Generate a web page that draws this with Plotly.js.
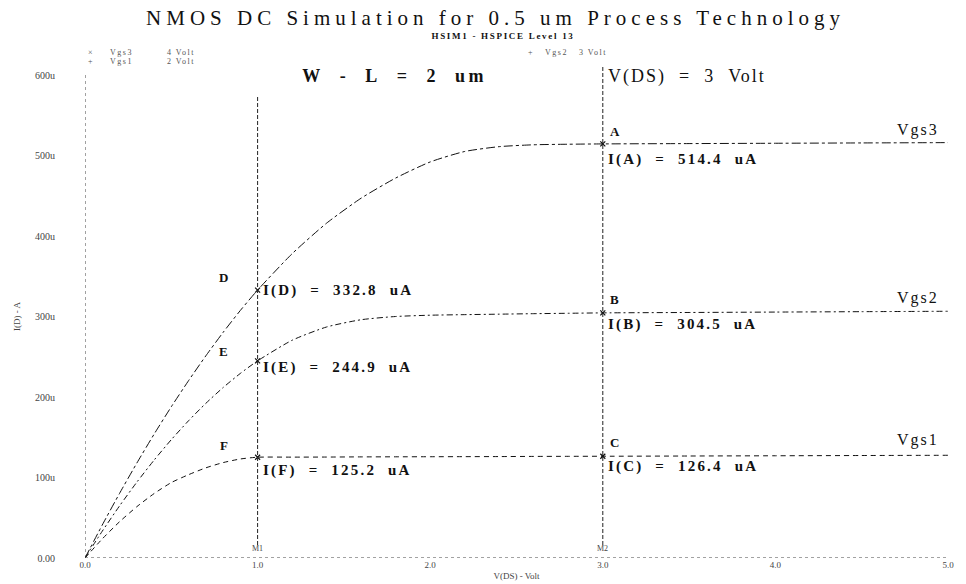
<!DOCTYPE html>
<html>
<head>
<meta charset="utf-8">
<script src="https://cdn.plot.ly/plotly-3.0.1.min.js"></script>
<style>
  html, body { margin: 0; padding: 0; background: #fff; }
  #chart { width: 966px; height: 584px; }
</style>
</head>
<body>
<div id="chart"></div>
<script>
// Drain voltage sweep (V) shared by all three gate-voltage curves
const vds = [0, 0.1, 0.2, 0.3, 0.4, 0.5, 0.6, 0.7, 0.8, 0.9, 1.0,
             1.2, 1.4, 1.6, 1.8, 2.0, 2.2, 2.4, 2.6, 2.8, 3.0,
             3.5, 4.0, 4.5, 5.0];

// Drain current (uA) for each gate voltage
const idVgs3 = [0, 41.0, 80.2, 117.8, 153.7, 187.9, 220.3, 251.1, 280.2, 307.5, 332.8,
                378.0, 416.0, 447.0, 472.0, 492.0, 505.0, 511.0, 513.3, 514.0, 514.4,
                514.8, 515.2, 515.6, 516.0];
const idVgs2 = [0, 33.3, 64.7, 94.1, 121.5, 147.0, 170.5, 192.1, 211.7, 229.3, 244.9,
                270.5, 287.0, 296.0, 300.0, 301.6, 302.3, 302.9, 303.5, 304.0, 304.5,
                305.0, 305.5, 306.0, 306.5];
const idVgs1 = [0, 23.7, 45.0, 63.7, 80.0, 93.7, 103.5, 112.0, 118.5, 123.0, 125.2,
                125.3, 125.4, 125.6, 125.7, 125.8, 125.9, 126.0, 126.2, 126.3, 126.4,
                126.7, 127.0, 127.3, 127.6];

// Cursor positions M1 / M2 and the currents they read on each curve
const cursorNames = ['M1', 'M2'];
const cursorVds = [1.0, 3.0];
const cursorVgs3 = [332.8, 514.4];
const cursorVgs2 = [244.9, 304.5];
const cursorVgs1 = [125.2, 126.4];
const pointNamesVgs3 = ['D', 'A'];
const pointNamesVgs2 = ['E', 'B'];
const pointNamesVgs1 = ['F', 'C'];

// Legend entries: marker, signal name, gate voltage
const legendMarks = ['\u00d7', '+', '+'];
const legendNames = ['Vgs3', 'Vgs1', 'Vgs2'];
const legendValues = ['4 Volt', '2 Volt', '3 Volt'];

// Axis ticks
const xTickVals = [0, 1, 2, 3, 4, 5];
const xTickText = ['0.0', '1.0', '2.0', '3.0', '4.0', '5.0'];
const yTickVals = [0, 100, 200, 300, 400, 500, 600];
const yTickText = ['0.00', '100u', '200u', '300u', '400u', '500u', '600u'];

const SERIF = 'Liberation Serif, serif';
const INK = '#111';
const GREY = '#444';
const NB = '\u00a0\u00a0';   // wide word gap

// pixel helpers for paper-referenced texts (plot area 85..948 x 75..558)
const px = function (x) { return (x - 85) / 863; };
const py = function (y) { return (558 - y) / 483; };

function curve(y, dash) {
  return {
    x: vds, y: y, type: 'scatter', mode: 'lines',
    line: { color: INK, width: 1, dash: dash, shape: 'spline', smoothing: 0.6 },
    hoverinfo: 'skip', showlegend: false
  };
}

const cursorX = [], cursorY = [];
[cursorVgs3, cursorVgs2, cursorVgs1].forEach(function (arr) {
  arr.forEach(function (v, i) { cursorX.push(cursorVds[i]); cursorY.push(v); });
});

const traces = [
  curve(idVgs3, 'dashdot'),
  curve(idVgs2, '6px,3px,2px,3px'),
  curve(idVgs1, '5px,4px'),
  {
    x: cursorX, y: cursorY, type: 'scatter', mode: 'markers',
    marker: { symbol: 'x-thin', size: 5, line: { color: INK, width: 1.2 } },
    hoverinfo: 'skip', showlegend: false
  }
];

// Per-annotation letter spacing (px), applied after drawing
const spacing = [];
const annotations = [];
function addNote(a, ls) { annotations.push(a); spacing.push(ls || 0); }

// Header texts
addNote({ text: '<b>HSIM1 - HSPICE Level 13</b>', xref: 'paper', yref: 'paper',
  x: px(503), y: py(36), xanchor: 'center', yanchor: 'middle', showarrow: false,
  font: { family: SERIF, size: 9, color: INK } }, 1.7);
addNote({ text: '<b>' + ['W', '-', 'L', '=', '2', 'um'].join(NB) + '</b>', xref: 'paper', yref: 'paper',
  x: px(394), y: py(76), xanchor: 'center', yanchor: 'middle', showarrow: false,
  font: { family: SERIF, size: 18, color: INK } }, 3.5);
addNote({ text: ['V(DS)', '=', '3', 'Volt'].join(NB), xref: 'paper', yref: 'paper',
  x: px(606), y: py(76), xanchor: 'left', align: 'left', yanchor: 'middle', showarrow: false,
  font: { family: SERIF, size: 18, color: INK } }, 2.0);

// Cursor point letters and read-out values
const letterShift = [{ xanchor: 'right', xshift: -28 }, { xanchor: 'left', xshift: 5 }];
const valueYShift = [[0, -16], [-7, -12], [-13, -10]];
const letterYShift = [[13, 12], [9, 13], [12, 14]];
[[cursorVgs3, pointNamesVgs3], [cursorVgs2, pointNamesVgs2], [cursorVgs1, pointNamesVgs1]]
  .forEach(function (pair, s) {
    const vals = pair[0], names = pair[1];
    vals.forEach(function (v, i) {
      addNote({ text: '<b>' + names[i] + '</b>', xref: 'x', yref: 'y', x: cursorVds[i], y: v,
        xanchor: letterShift[i].xanchor, xshift: letterShift[i].xshift, yshift: letterYShift[s][i],
        align: 'left', yanchor: 'middle', showarrow: false,
        font: { family: SERIF, size: 13, color: INK } }, 0);
      addNote({ text: '<b>' + ['I(' + names[i] + ')', '=', v.toFixed(1), 'uA'].join(NB) + '</b>',
        xref: 'x', yref: 'y', x: cursorVds[i], y: v, xanchor: 'left', xshift: 3,
        yshift: valueYShift[s][i], align: 'left', yanchor: 'middle', showarrow: false,
        font: { family: SERIF, size: 15, color: INK } }, 2.2);
    });
  });

// Cursor names at the foot of each cursor line
cursorNames.forEach(function (n, i) {
  addNote({ text: n, xref: 'x', yref: 'y', x: cursorVds[i], y: 12, xanchor: 'center',
    yanchor: 'middle', showarrow: false, font: { family: SERIF, size: 8, color: GREY } }, 0);
});

// Curve names at the right end
const curveLabelY = [532, 323, 147];
['Vgs3', 'Vgs2', 'Vgs1'].forEach(function (n, i) {
  addNote({ text: n, xref: 'x', yref: 'y', x: 4.826, y: curveLabelY[i], xanchor: 'center',
    yanchor: 'middle', showarrow: false, font: { family: SERIF, size: 16, color: INK } }, 2);
});

// Signal legend
const legendPos = [[90, 108, 165, 53], [90, 108, 165, 62], [530, 543, 577, 53]];
legendNames.forEach(function (n, i) {
  const p = legendPos[i];
  addNote({ text: legendMarks[i], xref: 'paper', yref: 'paper', x: px(p[0]), y: py(p[3]),
    xanchor: 'center', yanchor: 'middle', showarrow: false,
    font: { family: SERIF, size: 8, color: '#555' } }, 0);
  addNote({ text: n, xref: 'paper', yref: 'paper', x: px(p[1]), y: py(p[3]),
    xanchor: 'left', align: 'left', yanchor: 'middle', showarrow: false,
    font: { family: SERIF, size: 8, color: '#555' } }, 1.5);
  addNote({ text: legendValues[i], xref: 'paper', yref: 'paper', x: px(p[2]), y: py(p[3]),
    xanchor: 'left', align: 'left', yanchor: 'middle', showarrow: false,
    font: { family: SERIF, size: 8, color: '#555' } }, 1.5);
});

// Dotted axes and dashed cursor lines
const shapes = [
  { type: 'line', xref: 'x', yref: 'y', x0: 0, x1: 0, y0: 0, y1: 600,
    line: { color: GREY, width: 1, dash: 'dot' } },
  { type: 'line', xref: 'x', yref: 'y', x0: 0, x1: 5, y0: 0, y1: 0,
    line: { color: GREY, width: 1, dash: 'dot' } }
];
const cursorTop = [py(95), py(66)];
cursorVds.forEach(function (v, i) {
  shapes.push({ type: 'line', xref: 'x', yref: 'paper', x0: v, x1: v, y0: py(545), y1: cursorTop[i],
    line: { color: '#222', width: 1, dash: '4px,2px' } });
});

const layout = {
  width: 966, height: 584,
  margin: { l: 85, r: 18, t: 75, b: 26 },
  paper_bgcolor: '#fff', plot_bgcolor: '#fff',
  showlegend: false,
  title: {
    text: 'NMOS DC Simulation for 0.5 um Process Technology',
    font: { family: SERIF, size: 21, color: INK },
    x: 0.513, xanchor: 'center', xref: 'container',
    y: 1 - 18 / 584, yanchor: 'middle', yref: 'container'
  },
  xaxis: {
    range: [0, 5], tickvals: xTickVals, ticktext: xTickText,
    showgrid: false, zeroline: false, showline: false, ticks: '',
    tickfont: { family: SERIF, size: 9, color: GREY },
    title: { text: 'V(DS) - Volt', standoff: 3, font: { family: SERIF, size: 9, color: GREY } },
    automargin: false, fixedrange: true
  },
  yaxis: {
    range: [0, 600], tickvals: yTickVals, ticktext: yTickText,
    showgrid: false, zeroline: false, showline: false,
    ticks: 'outside', ticklen: 27, tickcolor: 'rgba(0,0,0,0)',
    tickfont: { family: SERIF, size: 10, color: GREY },
    title: { text: 'I(D) - A', standoff: 12, font: { family: SERIF, size: 9, color: GREY } },
    automargin: false, fixedrange: true
  },
  shapes: shapes,
  annotations: annotations
};

Plotly.newPlot('chart', traces, layout, { displayModeBar: false, staticPlot: true }).then(function (gd) {
  // widen the lettering of the header and annotation texts
  const t = gd.querySelector('.gtitle');
  if (t) t.style.letterSpacing = '5px';
  gd.querySelectorAll('.annotation').forEach(function (g) {
    const i = +g.getAttribute('data-index');
    const txt = g.querySelector('text.annotation-text');
    if (txt && spacing[i]) txt.style.letterSpacing = spacing[i] + 'px';
  });
});
</script>
</body>
</html>
